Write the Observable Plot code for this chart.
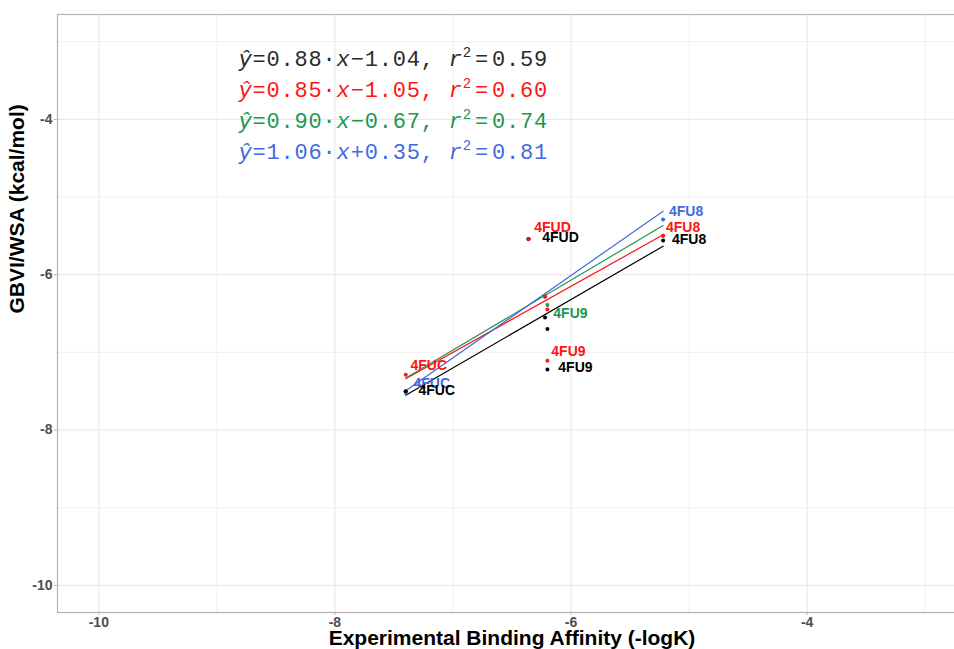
<!DOCTYPE html>
<html><head><meta charset="utf-8">
<script src="https://cdn.jsdelivr.net/npm/d3@7"></script>
<script src="https://cdn.jsdelivr.net/npm/@observablehq/plot@0.6"></script>
<style>
html,body{margin:0;padding:0;background:#fff;overflow:hidden;width:954px;height:649px;}
#chart{width:954px;height:649px;overflow:hidden;}
#chart svg{display:block;max-width:none !important;}
</style></head><body><div id="chart"></div>
<script>
// ---- data ----
const seriesNames = ["black", "red", "green", "blue"];
const slopes = [0.88, 0.85, 0.90, 1.06];
const intercepts = [-1.04, -1.05, -0.67, 0.35];
const r2Values = [0.59, 0.60, 0.74, 0.81];
const fitRange = [-7.40, -5.22];

const blackX = [-7.40, -6.36, -5.22, -6.22, -6.20, -6.20];
const blackY = [-7.50, -5.54, -5.56, -6.55, -6.70, -7.22];
const blackLabels = ["4FUC", "4FUD", "4FU8", null, null, "4FU9"];

const redX = [-7.40, -7.25, -6.36, -5.22, -6.22, -6.20, -6.20];
const redY = [-7.29, -7.45, -5.54, -5.50, -6.28, -6.45, -7.11];
const redLabels = ["4FUC", null, "4FUD", "4FU8", null, null, "4FU9"];

const greenX = [-7.40, -6.36, -5.22, -6.22, -6.20];
const greenY = [-7.50, -5.54, -5.50, -6.28, -6.39];
const greenLabels = [null, null, null, null, "4FU9"];

const blueX = [-7.40, -6.36, -5.22, -6.22];
const blueY = [-7.52, -5.54, -5.29, -6.28];
const blueLabels = ["4FUC", null, "4FU8", null];

const xTicks = [-10, -8, -6, -4];
const yTicks = [-10, -8, -6, -4];
const xMinor = [-9, -7, -5, -3];
const yMinor = [-9, -7, -5, -3];

// ---- styles / layout ----
const colors = {black: "#000000", red: "#FF1414", green: "#22964E", blue: "#4169E1"};
const eqColors = {black: "#2a2a2a", red: "#FF1414", green: "#22964E", blue: "#4169E1"};
const labelNudge = {
  "black 4FUC": [31, -1], "black 4FUD": [32, -1], "black 4FU8": [26, -1], "black 4FU9": [28, -2],
  "red 4FUC": [23, -9], "red 4FUD": [24, -11], "red 4FU8": [20, -8], "red 4FU9": [21, -9],
  "green 4FU9": [23, 9], "blue 4FU8": [23, -8], "blue 4FUC": [26, -9]
};

const raw = {
  black: [blackX, blackY, blackLabels],
  red: [redX, redY, redLabels],
  green: [greenX, greenY, greenLabels],
  blue: [blueX, blueY, blueLabels]
};
const drawOrder = ["green", "blue", "black", "red"];
const points = drawOrder.flatMap(s => raw[s][0].map((x, j) => ({series: s, x, y: raw[s][1][j], label: raw[s][2][j]})));

const fitLines = seriesNames.flatMap((s, i) => fitRange.map(x => ({series: s, x, y: slopes[i] * x + intercepts[i]})));

const fmt = v => (v < 0 ? "−" : "+") + Math.abs(v).toFixed(2);
const eqTexts = seriesNames.map((s, i) => `ŷ=${slopes[i].toFixed(2)}·x${fmt(intercepts[i])}, r²=${r2Values[i].toFixed(2)}`);

const labelMarks = points.filter(d => d.label).map(d => {
  const [dx, dy] = labelNudge[d.series + " " + d.label] || [20, -8];
  return Plot.text([d], {x: "x", y: "y", text: "label", dx, dy, fill: colors[d.series],
    fontWeight: "bold", fontSize: 14, fontFamily: "Liberation Sans, Arial, sans-serif",
    textAnchor: "middle", lineAnchor: "middle"});
});

const eqMarks = seriesNames.map((s, i) => Plot.text([eqTexts[i]], {
  text: d => d, frameAnchor: "top-left", dx: 181, dy: 44 + 31 * i,
  textAnchor: "start", lineAnchor: "middle", fill: eqColors[s],
  fontFamily: "Liberation Mono, monospace", fontSize: 22
}));

const chart = Plot.plot({
  width: 966, height: 649,
  marginLeft: 57, marginRight: 0, marginTop: 14, marginBottom: 37,
  style: {fontFamily: "Liberation Sans, Arial, sans-serif", background: "#fff", maxWidth: "none"},
  x: {domain: [-10.35, -2.65]},
  y: {domain: [-10.35, -2.65]},
  marks: [
    Plot.gridX(xMinor, {stroke: "#f0f0f0", strokeOpacity: 1, strokeWidth: 1}),
    Plot.gridY(yMinor, {stroke: "#f0f0f0", strokeOpacity: 1, strokeWidth: 1}),
    Plot.gridX(xTicks, {stroke: "#e6e6e6", strokeOpacity: 1, strokeWidth: 1}),
    Plot.gridY(yTicks, {stroke: "#e6e6e6", strokeOpacity: 1, strokeWidth: 1}),
    Plot.frame({stroke: "#b3b3b3", strokeWidth: 1.2}),
    Plot.axisX(xTicks, {tickSize: 3, tickPadding: 2, stroke: "#b3b3b3", fill: "#4d4d4d", fontWeight: "bold", fontSize: 14, label: null, tickFormat: d => String(d)}),
    Plot.axisY(yTicks, {tickSize: 3, tickPadding: 2, stroke: "#b3b3b3", fill: "#4d4d4d", fontWeight: "bold", fontSize: 14, label: null, tickFormat: d => String(d)}),
    ...seriesNames.map(s => Plot.line(fitLines.filter(d => d.series === s), {x: "x", y: "y", stroke: colors[s], strokeWidth: 1.2})),
    ...drawOrder.map(s => Plot.dot(points.filter(d => d.series === s), {x: "x", y: "y", r: 2, fill: colors[s], stroke: "none"})),
    ...labelMarks,
    ...eqMarks,
    Plot.text(["Experimental Binding Affinity (-logK)"], {text: d => d, frameAnchor: "bottom", dy: 26, dx: 0,
      lineAnchor: "middle", fontWeight: "bold", fontSize: 21, fill: "#000"}),
    Plot.text(["GBVI/WSA (kcal/mol)"], {text: d => d, frameAnchor: "left", dx: -40, rotate: -90,
      lineAnchor: "middle", fontWeight: "bold", fontSize: 21, fill: "#000"})
  ]
});
chart.style.maxWidth = "none";

// rich formatting of the equations (italic symbols, superscript, spacing around the r² "=")
chart.querySelectorAll("text").forEach(t => {
  const s = t.textContent;
  if (!s.startsWith("ŷ")) return;
  t.textContent = "";
  const ns = "http://www.w3.org/2000/svg";
  let shifted = false, afterSup = 0;
  for (const ch of s) {
    const sp = document.createElementNS(ns, "tspan");
    if (ch === "²") {
      sp.textContent = "2";
      sp.setAttribute("font-size", "14");
      sp.setAttribute("dy", "-9");
      shifted = true;
      afterSup = 1;
    } else {
      sp.textContent = ch;
      if (ch === "ŷ" || ch === "x" || ch === "r") sp.setAttribute("font-style", "italic");
      if (shifted) { sp.setAttribute("dy", "9"); shifted = false; }
      if (afterSup === 1) { sp.setAttribute("dx", "3"); afterSup = 2; }
      else if (afterSup === 2) { sp.setAttribute("dx", "3"); afterSup = 0; }
    }
    t.appendChild(sp);
  }
  t.setAttribute("letter-spacing", "0.8");
});

document.getElementById("chart").appendChild(chart);
</script>
</body></html>
